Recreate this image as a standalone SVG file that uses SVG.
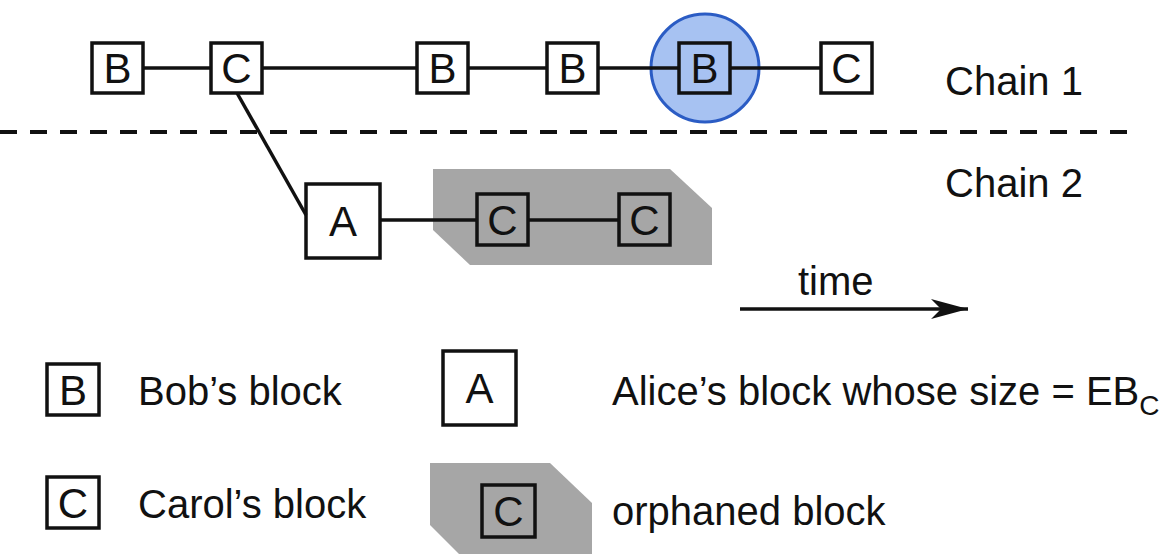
<svg xmlns="http://www.w3.org/2000/svg" width="1175" height="554" viewBox="0 0 1175 554">
<style>
text{font-family:"Liberation Sans",Arial,sans-serif;font-size:40px;fill:#111}
.box{fill:none;stroke:#111;stroke-width:3.5}
.lbl{text-anchor:middle;font-size:42px}
.ln{stroke:#111;stroke-width:3.5;fill:none}
.orph{fill:#a6a6a6}
</style>
<defs>
<marker id="ah" markerWidth="38" markerHeight="22" refX="37" refY="11" orient="auto" markerUnits="userSpaceOnUse">
<path d="M0,1 L37,11 L0,21 L10,11 Z" fill="#111"/>
</marker>
</defs>
<rect width="1175" height="554" fill="#fff"/>

<g id="background">
<polygon class="orph" points="433,169 670,169 712,208 712,265 470,265 433,230"/>
<circle cx="705" cy="68" r="54" fill="#a7c2f2" stroke="#2b5cc4" stroke-width="3"/>
<line x1="0" y1="132" x2="1140" y2="132" stroke="#111" stroke-width="4" stroke-dasharray="17 13"/>
</g>

<g id="connectors">
<line class="ln" x1="143" y1="68" x2="211" y2="68"/>
<line class="ln" x1="262" y1="68" x2="417" y2="68"/>
<line class="ln" x1="468" y1="68" x2="547" y2="68"/>
<line class="ln" x1="598" y1="68" x2="679" y2="68"/>
<line class="ln" x1="730" y1="68" x2="821" y2="68"/>
<line class="ln" x1="237" y1="93" x2="306" y2="215"/>
<line class="ln" x1="380" y1="220" x2="477" y2="220"/>
<line class="ln" x1="528" y1="220" x2="619" y2="220"/>
<line class="ln" x1="740" y1="309" x2="968" y2="309" marker-end="url(#ah)"/>
</g>

<g id="n-b1"><rect class="box" x="92" y="43" width="51" height="50"/><text class="lbl" x="117.5" y="83">B</text></g>
<g id="n-c1"><rect class="box" x="211" y="43" width="51" height="50"/><text class="lbl" x="236.5" y="83">C</text></g>
<g id="n-b2"><rect class="box" x="417" y="43" width="51" height="50"/><text class="lbl" x="442.5" y="83">B</text></g>
<g id="n-b3"><rect class="box" x="547" y="43" width="51" height="50"/><text class="lbl" x="572.5" y="83">B</text></g>
<g id="n-b4"><rect class="box" x="679" y="43" width="51" height="50"/><text class="lbl" x="704.5" y="83">B</text></g>
<g id="n-c2"><rect class="box" x="821" y="43" width="51" height="50"/><text class="lbl" x="846.5" y="83">C</text></g>

<g id="n-a"><rect class="box" x="306" y="184" width="74" height="74"/><text class="lbl" x="343" y="236">A</text></g>
<g id="n-c3"><rect class="box" x="477" y="194" width="51" height="51"/><text class="lbl" x="502.5" y="235">C</text></g>
<g id="n-c4"><rect class="box" x="619" y="194" width="51" height="51"/><text class="lbl" x="644.5" y="235">C</text></g>

<g id="chain-labels">
<text x="945" y="95">Chain 1</text>
<text x="945" y="197">Chain 2</text>
<text x="798" y="295">time</text>
</g>

<g id="legend">
<rect class="box" x="47" y="364" width="52" height="51"/><text class="lbl" x="73" y="405">B</text>
<text x="138" y="405">Bob’s block</text>
<rect class="box" x="47" y="477" width="52" height="51"/><text class="lbl" x="73" y="518">C</text>
<text x="138" y="518">Carol’s block</text>
<rect class="box" x="443" y="351" width="73" height="74"/><text class="lbl" x="479.5" y="403">A</text>
<text x="612" y="405">Alice’s block whose size = EB<tspan font-size="28" dy="10">C</tspan></text>
<polygon class="orph" points="430,463 550,463 592,503 592,560 465,560 430,525"/>
<rect class="box" x="482" y="485" width="53" height="52"/><text class="lbl" x="508.5" y="526">C</text>
<text x="612" y="525">orphaned block</text>
</g>
</svg>
